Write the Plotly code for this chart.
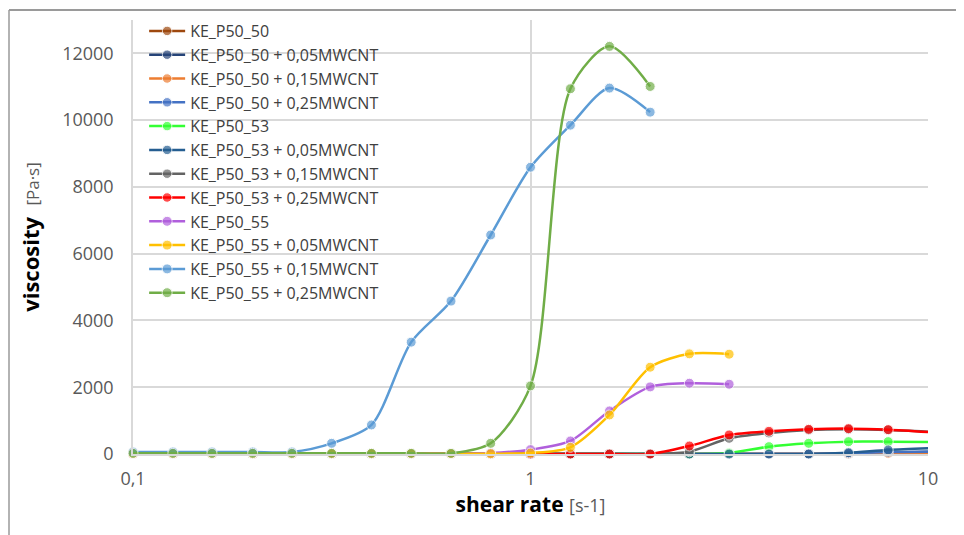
import plotly.graph_objects as go

# shear rate grid (s-1), 10 points per decade
shear_rate = [0.1, 0.126, 0.158, 0.2, 0.251, 0.316, 0.398, 0.501, 0.631, 0.794,
              1.0, 1.26, 1.58, 2.0, 2.51, 3.16, 3.98, 5.01, 6.31, 7.94, 10.0]

names = ["KE_P50_50", "KE_P50_50 + 0,05MWCNT", "KE_P50_50 + 0,15MWCNT", "KE_P50_50 + 0,25MWCNT",
         "KE_P50_53", "KE_P50_53 + 0,05MWCNT", "KE_P50_53 + 0,15MWCNT", "KE_P50_53 + 0,25MWCNT",
         "KE_P50_55", "KE_P50_55 + 0,05MWCNT", "KE_P50_55 + 0,15MWCNT", "KE_P50_55 + 0,25MWCNT"]

colors = ["#9E480E", "#264478", "#ED7D31", "#4472C4",
          "#33FF33", "#255E91", "#636363", "#FF0000",
          "#B05FDC", "#FFC000", "#5B9BD5", "#70AD47"]

# viscosity (Pa·s)
p50_50      = [0]*18 + [20, 30, 50]
p50_50_005  = [0]*19 + [40, 70]
p50_50_015  = [0]*19 + [20, 30]
p50_50_025  = [0]*18 + [20, 60, 70]
p50_53      = [0]*15 + [30, 220, 320, 370, 370, 360]
p50_53_005  = [0]*18 + [40, 120, 170]
p50_53_015  = [0]*14 + [70, 470, 630, 720, 740, 720, 670]
p50_53_025  = [0]*14 + [240, 570, 680, 740, 760, 730, 660]
p50_55      = [10]*9 + [30, 130, 390, 1290, 2010, 2120, 2090]
p50_55_005  = [10]*10 + [30, 200, 1170, 2600, 3000, 2990]
p50_55_015  = [60, 60, 60, 60, 60, 320, 870, 3350, 4580, 6560, 8590, 9850, 10960, 10240]
p50_55_025  = [20, 20, 20, 20, 20, 20, 20, 20, 20, 320, 2040, 10940, 12210, 11010]

series = [p50_50, p50_50_005, p50_50_015, p50_50_025,
          p50_53, p50_53_005, p50_53_015, p50_53_025,
          p50_55, p50_55_005, p50_55_015, p50_55_025]

x_ticks = [0.1, 1, 10]
x_ticktext = ["0,1", "1", "10"]
y_ticks = [0, 2000, 4000, 6000, 8000, 10000, 12000]

fig = go.Figure()
for i, (nm, col, ys) in enumerate(zip(names, colors, series)):
    xs = shear_rate[:len(ys)]
    sizes = [10 if x < 9.9 else 0 for x in xs]
    fig.add_trace(go.Scatter(
        x=xs, y=ys, name=nm, mode="lines+markers",
        line=dict(color=col, width=2.5, shape="spline", smoothing=0.8),
        marker=dict(color=col, size=sizes),
        cliponaxis=False, legendgroup=f"g{i}",
    ))

# page body adds an 8px offset; figure is sized to the visible region
OFF = 8
W, H = 964 - OFF, 535 - OFF
L, T = 133 - OFF, 20 - OFF
R = W - (928 - OFF)
B = H - (454 - OFF)
pw, ph = W - L - R, H - T - B

frame_col = "#9A9A9A"
fig.add_shape(type="line", xref="paper", yref="paper",
              x0=(1 - L) / pw, x1=(W - L) / pw, y0=1 + (T - 2) / ph, y1=1 + (T - 2) / ph,
              line=dict(color=frame_col, width=2))
fig.add_shape(type="line", xref="paper", yref="paper",
              x0=(1 - L) / pw, x1=(1 - L) / pw, y0=1 + (T - 2) / ph, y1=-(B) / ph,
              line=dict(color=frame_col, width=1.5))

fig.update_layout(
    width=W, height=H,
    margin=dict(l=L, r=R, t=T, b=B, autoexpand=False),
    plot_bgcolor="white", paper_bgcolor="white",
    font=dict(family="Open Sans", color="#595959"),
    showlegend=True,
    legend=dict(x=0.014, y=1 + 6 / ph, xanchor="left", yanchor="top",
                bgcolor="rgba(0,0,0,0)", font=dict(size=16, color="#404040"),
                tracegroupgap=0, itemwidth=36, maxheight=1.0),
    xaxis=dict(type="log", range=[-1, 1], tickvals=x_ticks, ticktext=x_ticktext,
               showgrid=True, gridcolor="#D9D9D9", gridwidth=1.5,
               showline=True, linecolor="#D9D9D9", linewidth=1.5,
               zeroline=False, ticks="", ticklabelstandoff=8,
               tickfont=dict(size=18, color="#595959"),
               title=dict(text="<b>shear rate</b> <span style='font-size:18px;color:#595959'>[s-1]</span>",
                          font=dict(size=21, color="#000000"), standoff=6)),
    yaxis=dict(range=[0, 13000], tickvals=y_ticks, tickformat="d",
               showgrid=True, gridcolor="#D9D9D9", gridwidth=1.5,
               showline=True, linecolor="#D9D9D9", linewidth=1.5,
               zeroline=False, ticks="", ticklabelstandoff=14,
               tickfont=dict(size=18, color="#595959"),
               title=dict(text="<b>viscosity</b>  <span style='font-size:17px;color:#595959'>[Pa·s]</span>",
                          font=dict(size=22, color="#000000"), standoff=16)),
)

fig.write_html("out.html")
